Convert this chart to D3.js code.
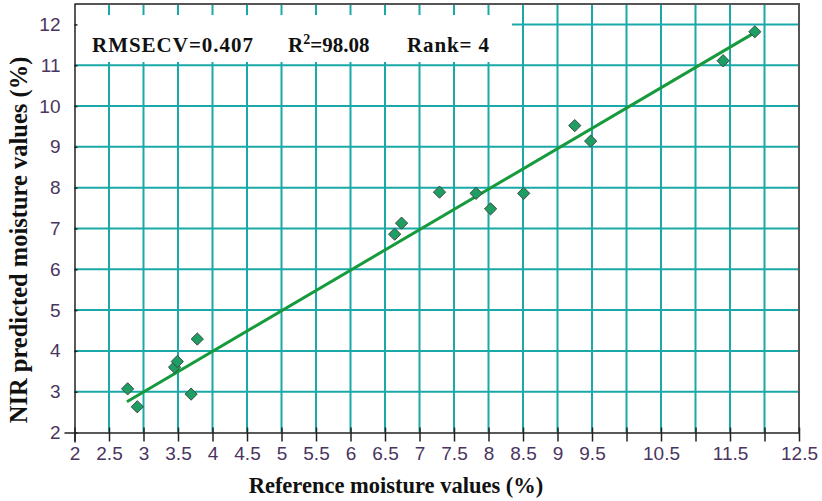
<!DOCTYPE html>
<html><head><meta charset="utf-8">
<script src="https://cdn.jsdelivr.net/npm/d3@7"></script>
<style>body{margin:0;background:#fff;}svg{display:block;}</style>
</head><body>
<svg id="c" width="822" height="501"></svg>
<script>
const refX = [2.77, 2.91, 3.45, 3.49, 3.69, 3.78, 6.64, 6.74, 7.29, 7.82, 8.03, 8.51, 9.25, 9.48, 11.40, 11.86];
const predY = [3.07, 2.63, 3.60, 3.74, 2.94, 4.29, 6.86, 7.13, 7.89, 7.86, 7.48, 7.86, 9.52, 9.14, 11.11, 11.82];
const fitX = [2.76, 11.84];
const fitY = [2.755, 11.78];
const xTicks = [2,2.5,3,3.5,4,4.5,5,5.5,6,6.5,7,7.5,8,8.5,9,9.5,10,10.5,11,11.5,12,12.5];
const xTickLabels = ["2","2.5","3","3.5","4","4.5","5","5.5","6","6.5","7","7.5","8","8.5","9","9.5","","10.5","","11.5","","12.5"];
const yTicks = [2,3,4,5,6,7,8,9,10,11,12];
const annot = ["RMSECV=0.407", "R", "2", "=98.08", "Rank= 4"];

const svg = d3.select("#c");
const L = 74.5, R = 799, T = 4, B = 432.5;
const x = d3.scaleLinear().domain([2, 12.5]).range([L, R]);
const y = d3.scaleLinear().domain([2, 12.5]).range([B, T]);
const grid = "#1aa8a8";

svg.append("g").selectAll("line").data(xTicks.filter(v => v > 2 && v < 12.5)).join("line")
  .attr("x1", d => x(d)).attr("x2", d => x(d)).attr("y1", T).attr("y2", B)
  .attr("stroke", grid).attr("stroke-width", 2);
svg.append("g").selectAll("line").data(yTicks.filter(v => v > 2)).join("line")
  .attr("x1", L).attr("x2", R).attr("y1", d => y(d)).attr("y2", d => y(d))
  .attr("stroke", grid).attr("stroke-width", 2);

svg.append("rect").attr("x", L + 1).attr("y", 15).attr("width", 512 - L - 1).attr("height", 47).attr("fill", "#fff");

svg.append("line").attr("x1", L).attr("x2", R + 1).attr("y1", T).attr("y2", T).attr("stroke", "#555").attr("stroke-width", 2);
svg.append("line").attr("x1", R).attr("x2", R).attr("y1", T).attr("y2", B).attr("stroke", "#555").attr("stroke-width", 2);

const xAxis = d3.axisBottom(x).tickValues(xTicks).tickSize(9).tickPadding(5).tickFormat((d, i) => xTickLabels[i]);
const gx = svg.append("g").attr("transform", `translate(0,${B})`).call(xAxis);
gx.select(".domain").attr("d", `M${L - 10},0.5H${R}`).attr("stroke", "#222").attr("stroke-width", 1.5);
gx.selectAll(".tick line").attr("y1", -5).attr("stroke", "#222").attr("stroke-width", 1.5);
gx.selectAll(".tick text").attr("font-family", "Liberation Sans, Arial, sans-serif").attr("font-size", 19).attr("fill", "#4a3560");

const yAxis = d3.axisLeft(y).tickValues(yTicks).tickSize(8).tickPadding(6).tickFormat(d3.format("d"));
const gy = svg.append("g").attr("transform", `translate(${L},0)`).call(yAxis);
gy.select(".domain").attr("d", `M0.5,${T}V${B + 10}`).attr("stroke", "#222").attr("stroke-width", 1.5);
gy.selectAll(".tick line").attr("x2", 3).attr("stroke", "#222").attr("stroke-width", 1.5);
gy.selectAll(".tick text").attr("font-family", "Liberation Sans, Arial, sans-serif").attr("font-size", 19).attr("fill", "#4a3560");

svg.append("line").attr("x1", x(fitX[0])).attr("y1", y(fitY[0])).attr("x2", x(fitX[1])).attr("y2", y(fitY[1]))
  .attr("stroke", "#169a3c").attr("stroke-width", 3);

const diamond = d3.symbol().type(d3.symbolDiamond2).size(95);
svg.append("g").selectAll("path").data(refX).join("path")
  .attr("d", diamond)
  .attr("transform", (d, i) => `translate(${x(d)},${y(predY[i])})`)
  .attr("fill", "#1e9e62").attr("stroke", "#3a4a44").attr("stroke-width", 1);

const tf = "Liberation Serif, 'Times New Roman', serif";
svg.append("text").attr("x", 92).attr("y", 52).attr("font-family", tf).attr("font-weight", "bold").attr("font-size", 21).attr("fill", "#111")
  .attr("textLength", 161).text(annot[0]);
const t2 = svg.append("text").attr("x", 288).attr("y", 52).attr("font-family", tf).attr("font-weight", "bold").attr("font-size", 21).attr("fill", "#111");
t2.append("tspan").text(annot[1]);
t2.append("tspan").attr("font-size", 14).attr("dy", -8).text(annot[2]);
t2.append("tspan").attr("dy", 8).text(annot[3]);
svg.append("text").attr("x", 407).attr("y", 52).attr("font-family", tf).attr("font-weight", "bold").attr("font-size", 21).attr("fill", "#111")
  .attr("textLength", 82).text(annot[4]);

svg.append("text").attr("x", 396).attr("y", 493).attr("text-anchor", "middle")
  .attr("font-family", tf).attr("font-weight", "bold").attr("font-size", 22.5).attr("fill", "#111")
  .text("Reference moisture values (%)");
svg.append("text").attr("transform", `translate(27,240) rotate(-90)`).attr("text-anchor", "middle")
  .attr("font-family", tf).attr("font-weight", "bold").attr("font-size", 24.5).attr("fill", "#111")
  .text("NIR predicted moisture values (%)");
</script>
</body></html>
